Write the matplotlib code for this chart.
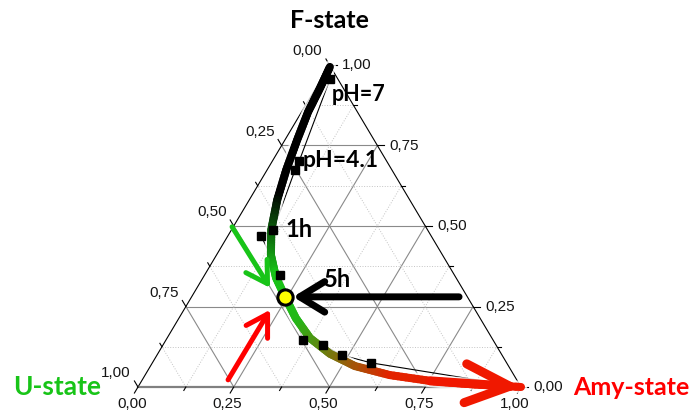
import numpy as np
import matplotlib.pyplot as plt
from matplotlib.collections import LineCollection
from matplotlib.colors import LinearSegmentedColormap

# tamanho do triangulo em pixels (figura 700x415)
ORIGEM_X, ORIGEM_Y = 138, 387
LADO_PX, ALTURA_PX = 383, 322

# frações: Amy (base) e F (lado direito); U = 1 - Amy - F
pontos_amy = [0.023, 0.070, 0.073, 0.109, 0.087, 0.197, 0.358, 0.418, 0.483, 0.571]
pontos_f = [0.957, 0.702, 0.674, 0.488, 0.469, 0.348, 0.146, 0.130, 0.099, 0.075]

# curva grossa F -> U -> Amy
curva_amy = [0.004, 0.011, 0.017, 0.032, 0.050, 0.073, 0.104, 0.142, 0.191,
             0.244, 0.305, 0.373, 0.450, 0.534, 0.639, 0.753, 0.862, 1.0]
curva_f = [0.994, 0.929, 0.854, 0.767, 0.674, 0.581, 0.488, 0.410, 0.339,
           0.280, 0.214, 0.152, 0.103, 0.065, 0.037, 0.019, 0.009, 0.0]

# ponto de 5h (circulo amarelo)
ponto5h_amy, ponto5h_f = 0.244, 0.280

ticks = [0.0, 0.25, 0.5, 0.75, 1.0]
ticks_menores = [0.125, 0.375, 0.625, 0.875]
rotulos = ["0,00", "0,25", "0,50", "0,75", "1,00"]


def xy(a, f):
    # ternario -> cartesiano (x na base, y = fração F)
    return a + f / 2, f


def desloca(x, y, dx, dy):
    # desloca em pixels (dy positivo = para cima)
    return x + dx / LADO_PX, y + dy / ALTURA_PX


fig = plt.figure(figsize=(7, 4.15), dpi=100)
ax = fig.add_axes([0, 0, 1, 1])
ax.set_xlim(-ORIGEM_X / LADO_PX, (700 - ORIGEM_X) / LADO_PX)
ax.set_ylim(-(415 - ORIGEM_Y) / ALTURA_PX, ORIGEM_Y / ALTURA_PX)
ax.axis("off")

# grade
for v in ticks[1:-1] + ticks_menores:
    maior = v in ticks
    estilo = dict(color="#8a8a8a", lw=0.8, ls="-") if maior else dict(color="#c4c4c4", lw=0.7, ls=":")
    linhas = [((0, v), (1 - v, v)), ((v, 0), (v, 1 - v)), ((1 - v, 0), (0, 1 - v))]
    for (a1, f1), (a2, f2) in linhas:
        x1, y1 = xy(a1, f1)
        x2, y2 = xy(a2, f2)
        ax.plot([x1, x2], [y1, y2], zorder=1, **estilo)

# bordas
ax.plot(*zip(xy(0, 0), xy(0, 1), xy(1, 0)), color="black", lw=0.8, zorder=2)
ax.plot(*zip(xy(0, 0), xy(1, 0)), color="#808080", lw=1.6, zorder=2)

# ticks e rotulos dos tres lados
dir_base = np.array([-191.5, -322.0]) / np.hypot(191.5, 322.0)
dir_esq = np.array([-191.5, 322.0]) / np.hypot(191.5, 322.0)
dir_dir = np.array([1.0, 0.0])
for v in ticks + ticks_menores:
    L = 7 if v in ticks else 4
    for base, d in [(xy(v, 0), dir_base), (xy(0, 1 - v), dir_esq), (xy(1 - v, v), dir_dir)]:
        x2, y2 = desloca(base[0], base[1], d[0] * L, d[1] * L)
        ax.plot([base[0], x2], [base[1], y2], color="black", lw=0.8, zorder=2)

fonte_tick = dict(family="Liberation Sans", fontsize=11, color="#151515")
for v, r in zip(ticks, rotulos):
    bx, by = xy(v, 0)
    ax.text(*desloca(bx, by, dir_base[0] * 12, dir_base[1] * 12), r, ha="center", va="top", **fonte_tick)
    lx, ly = xy(0, 1 - v)
    ax.text(*desloca(lx, ly, dir_esq[0] * 8 - 3, dir_esq[1] * 8), r, ha="right", va="bottom", **fonte_tick)
    rx, ry = xy(1 - v, v)
    ax.text(*desloca(rx, ry, 12, 0), r, ha="left", va="center", **fonte_tick)

# linha fina ligando os pontos
fina_amy = [0.0] + pontos_amy + [1.0]
fina_f = [1.0] + pontos_f + [0.0]
fx, fy = xy(np.array(fina_amy), np.array(fina_f))
ax.plot(fx, fy, color="black", lw=0.8, zorder=3)

# curva grossa com degradê preto -> verde -> vermelho
cx, cy = xy(np.array(curva_amy), np.array(curva_f))
px = np.column_stack([cx * LADO_PX, cy * ALTURA_PX])
seg_len = np.hypot(*np.diff(px, axis=0).T)
t_nos = np.concatenate([[0], np.cumsum(seg_len)]) / seg_len.sum()
segs, t_segs = [], []
for i in range(len(cx) - 1):
    for k in range(10):
        s0, s1 = k / 10, (k + 1) / 10
        p0 = (cx[i] + (cx[i + 1] - cx[i]) * s0, cy[i] + (cy[i + 1] - cy[i]) * s0)
        p1 = (cx[i] + (cx[i + 1] - cx[i]) * s1, cy[i] + (cy[i + 1] - cy[i]) * s1)
        segs.append([p0, p1])
        t_segs.append(t_nos[i] + (t_nos[i + 1] - t_nos[i]) * (s0 + s1) / 2)
cmap = LinearSegmentedColormap.from_list("estado", [(0, "black"), (0.27, "black"), (0.43, "#18c418"),
                                                    (0.53, "#22b818"), (0.75, "#e32400"), (1, "#f01800")])
ax.plot(cx, cy, color="white", lw=9, alpha=0.8, solid_capstyle="round", zorder=4)
lc = LineCollection(segs, colors=cmap(np.array(t_segs)), linewidths=5.8, capstyle="round", zorder=5)
ax.add_collection(lc)

# cabeça da seta no fim da curva
ax.annotate("", xy=(cx[-1], cy[-1]), xytext=(cx[-3], cy[-3]),
            arrowprops=dict(arrowstyle="->,head_length=1.6,head_width=0.7", color="#f01800",
                            lw=6.5, mutation_scale=20, shrinkA=0, shrinkB=0), zorder=6)

# pontos medidos
ax.plot(*xy(np.array(pontos_amy), np.array(pontos_f)), "s", color="black", ms=5.5, zorder=7)

# setas apontando para o ponto de 5h
yx, yy = xy(ponto5h_amy, ponto5h_f)
setas = [((-15, 9), (-38, 61), "#18c418", 3.6, "0.75", "0.45"),
         ((-15, -13), (-42, -70), "#ff0000", 3.6, "0.75", "0.45"),
         ((8, 0), (166, 0), "black", 5.0, "0.9", "0.55")]
for ponta, cauda, cor, lw, hl, hw in setas:
    ax.annotate("", xy=desloca(yx, yy, *ponta), xytext=cauda, textcoords="offset pixels",
                arrowprops=dict(arrowstyle=f"->,head_length={hl},head_width={hw}", color=cor, lw=lw,
                                mutation_scale=20, shrinkA=0, shrinkB=0), zorder=8)

ax.plot(yx, yy, "o", ms=11, mfc="#ffff00", mec="black", mew=2.2, zorder=9)

# textos
fonte_rot = dict(family="Lato", fontweight="bold")
ax.text(*desloca(*xy(0, 1), 0, 45), "F-state", ha="center", va="center", fontsize=18, color="black", **fonte_rot)
ax.text(*desloca(*xy(0, 0), -37, 0), "U-state", ha="right", va="center", fontsize=19, color="#18c418", **fonte_rot)
ax.text(*desloca(*xy(1, 0), 52, 0), "Amy-state", ha="left", va="center", fontsize=18, color="#ff0000", **fonte_rot)

ax.text(*desloca(*xy(pontos_amy[0], pontos_f[0]), 2, -16), "pH=7", ha="left", va="center", fontsize=15.5, **fonte_rot)
ax.text(*desloca(*xy(pontos_amy[1], pontos_f[1]), 3, 0), "pH=4.1", ha="left", va="center", fontsize=16.5, **fonte_rot)
ax.text(*desloca(*xy(pontos_amy[3], pontos_f[3]), 12, 0), "1h", ha="left", va="center", fontsize=17, **fonte_rot)
ax.text(*desloca(yx, yy, 39, 17), "5h", ha="left", va="center", fontsize=17, **fonte_rot)

fig.savefig("out.png", dpi=100)
